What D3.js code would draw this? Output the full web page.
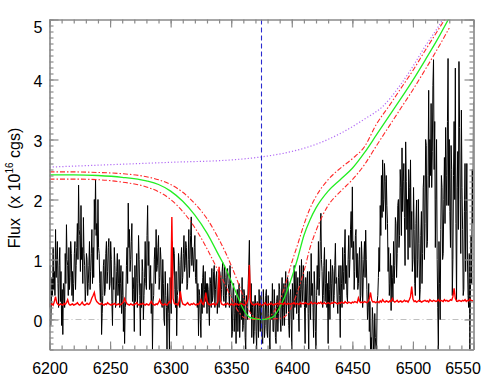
<!DOCTYPE html>
<html>
<head>
<meta charset="utf-8">
<script src="https://cdn.jsdelivr.net/npm/d3@7"></script>
<style>
html,body{margin:0;padding:0;background:#fff;}
svg{display:block;font-family:"Liberation Sans",Arial,Helvetica,sans-serif;}
</style>
</head>
<body>
<svg id="chart" width="498" height="388"></svg>
<script>
// ---------- DATA ----------
const specStart = 6200; // first wavelength of spectrum arrays (1 A step)
// flux at whole-Angstrom pixels 6200, 6201, ...
const spectrumFlux = [
0.2,-0.1,0.7,1.2,0.8,1.5,1.0,0.6,0.9,0.3,
-0.1,-0.25,0.5,1.1,1.58,0.9,1.2,0.7,1.1,0.8,
0.6,1.3,0.9,1.6,2.24,1.4,1.9,1.2,1.7,0.9,
0.5,1.0,0.6,1.3,0.8,1.5,1.2,2.0,2.33,1.6,
2.0,1.1,0.3,-0.25,0.4,1.0,0.5,1.3,0.8,1.35,
0.6,1.0,-0.1,0.5,0.9,0.3,1.1,0.6,0.2,0.9,
0.4,-0.2,-0.4,0.3,1.2,1.94,1.5,1.0,1.6,0.7,
-0.2,0.3,1.1,0.6,1.0,-0.27,0.2,0.8,0.4,1.3,
0.5,1.9,1.3,0.6,0.1,-0.5,0.4,1.2,1.5,0.9,
1.4,0.7,1.0,0.2,0.6,-0.1,0.4,-0.5,0.3,-0.5,
0.5,1.3,0.8,1.1,0.2,-0.27,0.5,0.9,0.4,1.2,
0.7,1.4,0.9,1.2,0.6,1.5,1.0,1.71,1.2,0.8,
1.4,0.6,0.2,-0.27,0.4,-0.3,0.1,0.9,0.5,0.3,
0.1,0.5,-0.1,0.6,0.85,0.4,0.9,0.5,0.8,0.3,
0.2,0.7,0.5,0.95,0.3,0.7,0.4,0.85,0.5,0.9,
0.4,-0.2,0.6,0.1,-0.4,0.5,0.2,-0.3,0.3,0.7,
-0.1,0.4,-0.5,0.2,0.6,1.32,0.1,-0.3,0.3,-0.2,
0.4,-0.5,0.1,0.5,-0.2,0.3,-0.4,0.2,-0.1,0.5,
-0.3,0.1,-0.5,0.3,0.6,-0.2,0.2,-0.4,0.4,0.1,
0.5,-0.2,0.7,0.2,-0.1,0.8,0.3,0.6,-0.3,0.5,
-0.5,0.3,0.9,0.4,0.1,0.7,-0.2,0.5,1.0,0.3,
0.6,-0.4,0.2,0.8,-0.5,0.4,1.1,0.6,-0.3,0.5,
-0.5,0.9,1.3,0.7,1.77,0.8,0.4,1.2,0.6,0.2,
-0.4,0.5,1.0,0.3,0.8,0.4,1.27,0.7,0.1,0.9,
-0.3,0.6,1.2,0.5,1.5,0.9,0.3,1.4,1.0,1.8,
2.21,1.3,0.8,1.5,1.1,0.6,1.2,0.4,1.0,0.7,
1.3,1.49,0.5,0.2,-0.2,-0.5,-0.5,0.0,-0.5,-0.3,
-0.5,0.4,1.2,1.9,2.4,2.66,2.0,2.3,2.4,1.6,
1.2,0.6,0.15,0.7,1.3,0.9,1.6,1.1,2.0,1.4,
2.2,2.86,2.3,1.7,2.96,1.5,1.0,2.2,2.66,1.8,
1.0,1.5,0.4,1.99,1.0,1.27,0.5,1.8,1.1,2.4,
1.6,2.9,1.3,3.82,3.0,3.6,2.8,4.33,3.3,2.0,
1.0,-0.5,0.6,1.5,2.2,1.1,2.7,3.2,1.9,4.35,
3.0,1.2,2.5,1.0,3.3,4.19,0.3,2.8,4.30,2.0,
3.49,1.5,0.5,2.6,1.8,1.0,0.2,-0.5,1.4,2.5,
3.63
];
// flux at half-Angstrom pixels 6200.5, 6201.5, ...
const spectrumFluxHalf = [
0.9,0.3,0.4,0.5,0.4,0.7,1.3,0.2,1.2,0.8,
0.5,0.6,0.2,0.6,1.0,0.4,0.5,1.3,0.4,0.3,
1.1,0.5,1.2,1.0,1.5,0.8,1.0,0.6,1.1,0.3,
1.1,0.4,0.9,0.5,1.1,0.6,0.7,1.5,1.4,1.0,
1.2,0.6,0.8,0.1,0.9,0.4,1.1,0.6,1.2,0.5,
1.3,0.3,0.7,1.2,0.2,0.8,0.4,1.0,0.6,0.1,
0.8,0.3,0.2,0.9,0.6,1.2,0.8,1.3,0.3,0.5,
0.9,0.7,0.2,1.4,0.4,0.6,1.0,0.0,0.7,0.6,
1.4,0.9,0.5,0.9,0.6,0.3,1.0,0.6,0.8,1.2,
0.5,1.2,0.3,1.0,0.0,0.8,0.2,0.6,0.1,0.7,
0.1,0.7,1.2,0.5,0.8,0.4,1.1,0.2,1.0,0.6,
1.1,0.8,1.3,0.5,1.0,0.7,1.4,0.9,1.0,1.2,
0.7,1.0,0.6,0.5,0.0,0.6,0.7,0.2,0.8,0.6,
0.6,0.2,0.7,0.2,0.3,0.8,0.2,0.7,0.1,0.6,
0.8,0.3,0.8,0.4,0.9,0.2,0.8,0.6,0.2,0.6,
-0.3,0.5,-0.2,0.4,0.2,-0.2,0.6,0.1,0.0,-0.2,
0.5,-0.3,0.4,0.0,0.9,0.4,0.6,0.2,-0.4,0.4,
-0.2,0.3,-0.3,0.2,0.4,-0.3,0.5,-0.3,0.4,-0.2,
0.4,-0.3,0.3,0.0,-0.2,0.5,-0.3,0.3,-0.2,0.6,
0.0,0.4,-0.1,0.6,0.5,0.1,0.7,-0.1,0.4,0.0,
0.6,0.0,0.2,0.8,0.5,0.1,0.9,0.2,0.5,0.9,
0.2,0.7,0.6,0.1,0.8,0.0,0.4,0.2,0.8,-0.2,
0.4,0.5,0.4,1.3,1.0,0.2,0.9,0.3,1.0,0.6,
0.8,0.0,0.6,0.9,0.2,0.9,0.6,0.3,0.7,0.4,
0.9,0.2,0.8,1.1,0.6,0.4,1.0,0.7,1.5,1.2,
1.0,0.5,1.4,0.7,0.5,1.0,0.3,1.3,0.2,1.0,
0.7,1.0,0.0,0.6,0.3,-0.3,0.2,-0.5,0.1,-0.5,
0.3,0.7,0.8,1.4,1.7,1.8,2.6,1.5,1.9,0.8,
0.4,1.1,0.9,0.3,0.6,1.7,0.7,1.9,1.2,2.5,
1.4,1.8,2.6,0.9,2.3,2.0,2.5,1.2,1.5,0.8,
2.2,0.6,1.6,0.7,2.0,0.3,1.4,0.6,2.2,1.0,
3.0,1.2,2.4,2.2,2.4,2.2,3.9,2.5,1.2,3.0,
0.2,1.3,0.0,2.4,1.0,2.0,1.6,2.4,3.3,1.9,
1.8,2.9,0.4,2.4,2.0,1.6,2.2,1.5,3.2,1.1,
2.2,0.4,1.8,0.8,2.6,0.4,1.1,0.5,0.6,1.6
];
const errorFlux = [
0.24,0.25,0.26,0.24,0.30,0.38,0.28,0.25,0.24,0.26,
0.25,0.24,0.27,0.25,0.28,0.33,0.26,0.24,0.25,0.26,
0.24,0.25,0.26,0.28,0.25,0.24,0.26,0.29,0.25,0.24,
0.25,0.27,0.25,0.26,0.30,0.36,0.40,0.45,0.34,0.30,
0.28,0.26,0.25,0.27,0.25,0.24,0.26,0.25,0.28,0.26,
0.25,0.24,0.26,0.25,0.27,0.24,0.25,0.26,0.24,0.25,
0.27,0.29,0.35,0.30,0.26,0.25,0.24,0.26,0.25,0.24,
0.25,0.26,0.28,0.25,0.24,0.26,0.25,0.27,0.25,0.24,
0.26,0.25,0.24,0.27,0.30,0.26,0.25,0.24,0.26,0.25,
0.28,0.33,0.27,0.25,0.24,0.26,0.25,0.24,0.27,0.30,
0.28,1.71,0.35,0.27,0.25,0.26,0.24,0.30,0.47,0.32,
0.26,0.25,0.24,0.26,0.28,0.25,0.24,0.26,0.25,0.27,
0.25,0.24,0.26,0.25,0.28,0.33,0.27,0.25,0.30,0.45,
0.31,0.26,0.25,0.24,0.26,0.25,0.27,0.24,0.26,0.30,
0.88,0.32,0.26,0.25,0.24,0.26,0.25,0.27,0.25,0.24,
0.26,0.25,0.24,0.27,0.25,0.26,0.24,0.25,0.27,0.26,
0.25,0.24,0.26,0.28,0.35,0.91,0.30,0.26,0.25,0.24,
0.26,0.25,0.27,0.24,0.26,0.25,0.24,0.26,0.28,0.25,
0.24,0.26,0.25,0.27,0.25,0.24,0.26,0.25,0.27,0.26,
0.25,0.27,0.26,0.25,0.28,0.26,0.25,0.27,0.26,0.25,
0.27,0.26,0.28,0.25,0.27,0.26,0.25,0.28,0.26,0.27,
0.26,0.28,0.27,0.26,0.25,0.27,0.29,0.26,0.27,0.28,
0.27,0.26,0.28,0.27,0.29,0.26,0.27,0.28,0.26,0.27,
0.28,0.27,0.26,0.28,0.27,0.29,0.28,0.27,0.26,0.28,
0.27,0.29,0.28,0.27,0.30,0.28,0.27,0.29,0.28,0.27,
0.29,0.28,0.30,0.29,0.28,0.36,0.30,0.28,0.29,0.28,
0.30,0.29,0.28,0.30,0.35,0.45,0.32,0.29,0.30,0.28,
0.29,0.30,0.28,0.31,0.29,0.33,0.30,0.29,0.31,0.30,
0.29,0.31,0.30,0.35,0.31,0.29,0.30,0.32,0.29,0.30,
0.31,0.29,0.30,0.32,0.30,0.31,0.29,0.33,0.38,0.55,
0.34,0.30,0.31,0.29,0.30,0.32,0.31,0.29,0.30,0.31,
0.32,0.30,0.31,0.29,0.33,0.31,0.30,0.32,0.31,0.30,
0.31,0.33,0.30,0.32,0.31,0.30,0.33,0.31,0.32,0.30,
0.31,0.33,0.32,0.38,0.52,0.35,0.31,0.30,0.32,0.31,
0.30,0.32,0.31,0.33,0.30,0.32,0.31,0.34,0.32,0.31,
0.32
];
// model fit (green) and its envelope (red dash-dot)
const fitWave = [6200,6220,6240,6260,6280,6290,6300,6310,6320,6330,6340,6345,6350,6355,6360,6365,6370,6375,6380,6385,6390,6395,6400,6405,6410,6415,6420,6430,6440,6450,6460,6470,6480,6490,6500,6510,6520,6530];
const fitFlux = [2.41,2.41,2.40,2.37,2.31,2.25,2.14,1.97,1.74,1.44,1.06,0.87,0.64,0.40,0.17,0.04,0.01,0.0,0.01,0.05,0.20,0.42,0.70,1.03,1.40,1.66,1.86,2.14,2.33,2.52,2.78,3.08,3.38,3.68,3.99,4.32,4.66,5.03];
const upperFlux = [2.46,2.46,2.45,2.43,2.38,2.33,2.25,2.12,1.93,1.68,1.33,1.13,0.90,0.65,0.38,0.14,0.03,0.01,0.03,0.12,0.30,0.60,0.95,1.26,1.58,1.85,2.05,2.33,2.52,2.68,2.88,3.26,3.55,3.85,4.15,4.48,4.80,5.12];
const lowerFlux = [2.34,2.34,2.33,2.29,2.21,2.13,2.00,1.80,1.53,1.18,0.78,0.58,0.36,0.16,0.04,0.01,0.0,0.0,0.0,0.01,0.02,0.06,0.22,0.48,0.80,1.19,1.48,1.90,2.13,2.33,2.58,2.90,3.21,3.52,3.83,4.16,4.50,4.86];
// continuum (purple dotted)
const contWave = [6200,6250,6300,6350,6375,6400,6420,6440,6460,6475,6490,6500,6510,6520,6530];
const contFlux = [2.54,2.58,2.62,2.66,2.71,2.80,2.92,3.10,3.34,3.55,3.92,4.22,4.55,4.85,5.18];
const lineCenter = 6375;
const xTicks = [6200,6250,6300,6350,6400,6450,6500,6550];
const yTicks = [0,1,2,3,4,5];
const yLabelMain = "Flux  (x 10";
const yLabelSup = "16";
const yLabelEnd = " cgs)";

// ---------- CHART ----------
const svg = d3.select("#chart");
const L = 49.5, R = 473.5, T = 19.5, B = 349.5;
const x = d3.scaleLinear().domain([6200, 6550]).range([L, R]);
const y = d3.scaleLinear().domain([-0.5, 5]).range([B, T]);

svg.append("defs").append("clipPath").attr("id", "clip")
  .append("rect").attr("x", L).attr("y", T).attr("width", R - L).attr("height", B - T);
const plot = svg.append("g").attr("clip-path", "url(#clip)");

const spec = [];
spectrumFlux.forEach((v, i) => {
  spec.push([specStart + i, v]);
  if (i < spectrumFluxHalf.length) spec.push([specStart + i + 0.5, spectrumFluxHalf[i]]);
});
const err = errorFlux.map((v, i) => [specStart + i, v]);
const lineLin = d3.line().x(d => x(d[0])).y(d => y(d[1]));
const lineSmooth = d3.line().x(d => x(d[0])).y(d => y(d[1])).curve(d3.curveMonotoneX);

// zero line
plot.append("line").attr("x1", L).attr("x2", R).attr("y1", y(0)).attr("y2", y(0))
  .attr("stroke", "#c0c0c0").attr("stroke-width", 1).attr("stroke-dasharray", "6,3,1,3");

// spectrum
plot.append("path").datum(spec).attr("d", lineLin)
  .attr("fill", "none").attr("stroke", "#000").attr("stroke-width", 1);

// continuum
plot.append("path").datum(contWave.map((w, i) => [w, contFlux[i]])).attr("d", lineSmooth)
  .attr("fill", "none").attr("stroke", "#b26cf5").attr("stroke-width", 1.2).attr("stroke-dasharray", "1.2,2");

// envelopes
[upperFlux, lowerFlux].forEach(arr => {
  plot.append("path").datum(fitWave.map((w, i) => [w, arr[i]])).attr("d", lineSmooth)
    .attr("fill", "none").attr("stroke", "#ff2a2a").attr("stroke-width", 1.1).attr("stroke-dasharray", "5,2,1.5,2");
});
// fit
plot.append("path").datum(fitWave.map((w, i) => [w, fitFlux[i]])).attr("d", lineSmooth)
  .attr("fill", "none").attr("stroke", "#22ee22").attr("stroke-width", 1.3);

// error spectrum
plot.append("path").datum(err).attr("d", lineLin)
  .attr("fill", "none").attr("stroke", "#ff0000").attr("stroke-width", 1.4);

// line center
plot.append("line").attr("x1", x(lineCenter)).attr("x2", x(lineCenter)).attr("y1", T).attr("y2", B)
  .attr("stroke", "#2a2ad0").attr("stroke-width", 1.1).attr("stroke-dasharray", "5,3");

// axes
const axisColor = "#8a8a8a";
function styleAxis(g) {
  g.selectAll("path,line").attr("stroke", axisColor).attr("stroke-width", 1.2);
  g.selectAll("text").attr("fill", "#000").attr("font-size", "16px")
    .attr("font-family", "'Liberation Sans',Arial,Helvetica,sans-serif");
}
const xMinor = d3.range(6200, 6551, 10);
const yMinor = d3.range(-5, 51, 1).map(v => v / 10);

svg.append("g").attr("transform", `translate(0,${B})`)
  .call(d3.axisBottom(x).tickValues(xMinor).tickSize(-4).tickFormat("").tickSizeOuter(0)).call(styleAxis);
const xAx = svg.append("g").attr("transform", `translate(0,${B})`)
  .call(d3.axisBottom(x).tickValues(xTicks).tickSize(-8).tickPadding(13).tickFormat(d3.format("d")).tickSizeOuter(0))
  .call(styleAxis);
xAx.selectAll("text").attr("dx", d => d === 6550 ? -11 : 0);
svg.append("g").attr("transform", `translate(0,${T})`)
  .call(d3.axisTop(x).tickValues(xMinor).tickSize(-4).tickFormat("").tickSizeOuter(0)).call(styleAxis);
svg.append("g").attr("transform", `translate(0,${T})`)
  .call(d3.axisTop(x).tickValues(xTicks).tickSize(-8).tickFormat("").tickSizeOuter(0)).call(styleAxis);

svg.append("g").attr("transform", `translate(${L},0)`)
  .call(d3.axisLeft(y).tickValues(yMinor).tickSize(-4).tickFormat("").tickSizeOuter(0)).call(styleAxis);
const yAx = svg.append("g").attr("transform", `translate(${L},0)`)
  .call(d3.axisLeft(y).tickValues(yTicks).tickSize(-9).tickPadding(7).tickFormat(d3.format("d")).tickSizeOuter(0))
  .call(styleAxis);
yAx.selectAll("text").attr("dy", d => d === 5 ? "0.8em" : "0.45em");
svg.append("g").attr("transform", `translate(${R},0)`)
  .call(d3.axisRight(y).tickValues(yMinor).tickSize(-4).tickFormat("").tickSizeOuter(0)).call(styleAxis);
svg.append("g").attr("transform", `translate(${R},0)`)
  .call(d3.axisRight(y).tickValues(yTicks).tickSize(-9).tickFormat("").tickSizeOuter(0)).call(styleAxis);

// y label
const yl = svg.append("text")
  .attr("transform", `translate(20,188) rotate(-90)`)
  .attr("text-anchor", "middle").attr("font-size", "16px").attr("fill", "#000");
yl.append("tspan").text(yLabelMain).style("white-space", "pre");
yl.append("tspan").text(yLabelSup).attr("font-size", "10px").attr("dy", "-7");
yl.append("tspan").text(yLabelEnd).attr("dy", "7").style("white-space", "pre");
</script>
</body>
</html>
